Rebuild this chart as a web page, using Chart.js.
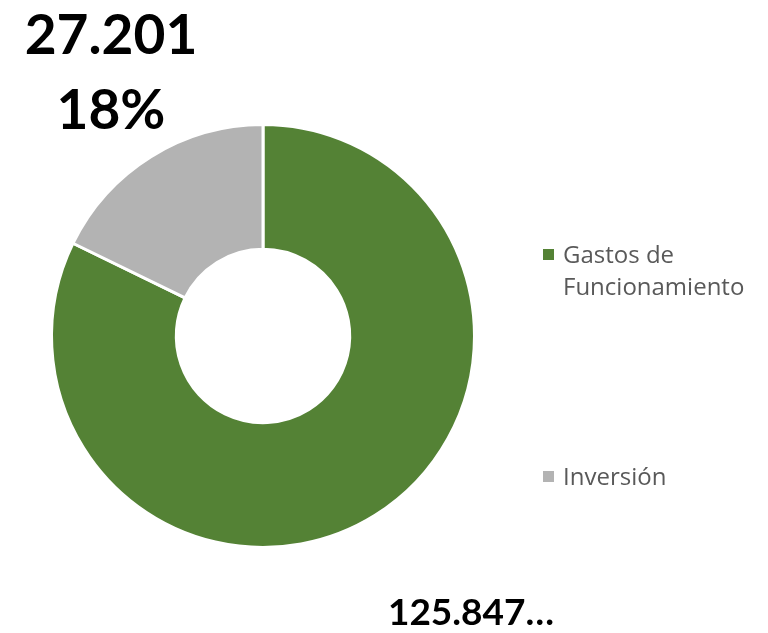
<!DOCTYPE html>
<html>
<head>
<meta charset="utf-8">
<script src="https://cdn.jsdelivr.net/npm/chart.js@4"></script>
<style>
    html, body { margin: 0; padding: 0; background: #fff; }
    #wrap { width: 768px; height: 633px; position: relative; }
</style>
</head>
<body>
<div id="wrap"><canvas id="donut" width="768" height="633"></canvas></div>
<script>
// Data
const categories = ["Gastos de Funcionamiento", "Inversión"];
const legendLines = [["Gastos de", "Funcionamiento"], ["Inversión"]];
const values = [125847, 27201];
const colors = ["#548235", "#b3b3b3"];

const fmt = (v) => v.toLocaleString("de-DE");

// Labels and legend drawn on the canvas
const extras = {
    id: "extras",
    afterDraw(chart) {
        const ctx = chart.ctx;
        const total = values.reduce((a, b) => a + b, 0);
        ctx.save();
        ctx.fillStyle = "#000";
        ctx.textAlign = "center";
        ctx.textBaseline = "alphabetic";

        // Inversión label (top left)
        ctx.font = "bold 55px Lato";
        ctx.fillText(fmt(values[1]), 111, 54);
        ctx.fillText(Math.round(values[1] / total * 100) + "%", 111, 129);

        // Gastos label (bottom, clipped)
        ctx.font = "bold 37px Lato";
        ctx.fillText(fmt(values[0]).slice(0, 7) + "…", 471, 625);

        // Legend
        const legendY = [263, 485];
        ctx.textAlign = "left";
        ctx.font = "24px 'Open Sans'";
        legendLines.forEach((lines, i) => {
            ctx.fillStyle = colors[i];
            ctx.fillRect(543, legendY[i] - 14, 11, 11);
            ctx.fillStyle = "#595959";
            lines.forEach((t, j) => ctx.fillText(t, 563, legendY[i] + j * 32));
        });
        ctx.restore();
    }
};

const chart = new Chart(document.getElementById("donut"), {
    type: "doughnut",
    data: {
        labels: categories,
        datasets: [{
            data: values,
            backgroundColor: colors,
            borderColor: "#ffffff",
            borderWidth: 3
        }]
    },
    options: {
        responsive: false,
        animation: false,
        cutout: "41%",
        layout: { padding: { left: 50, right: 292, top: 123, bottom: 84 } },
        plugins: {
            legend: { display: false },
            tooltip: { enabled: false }
        }
    },
    plugins: [extras]
});
</script>
</body>
</html>
